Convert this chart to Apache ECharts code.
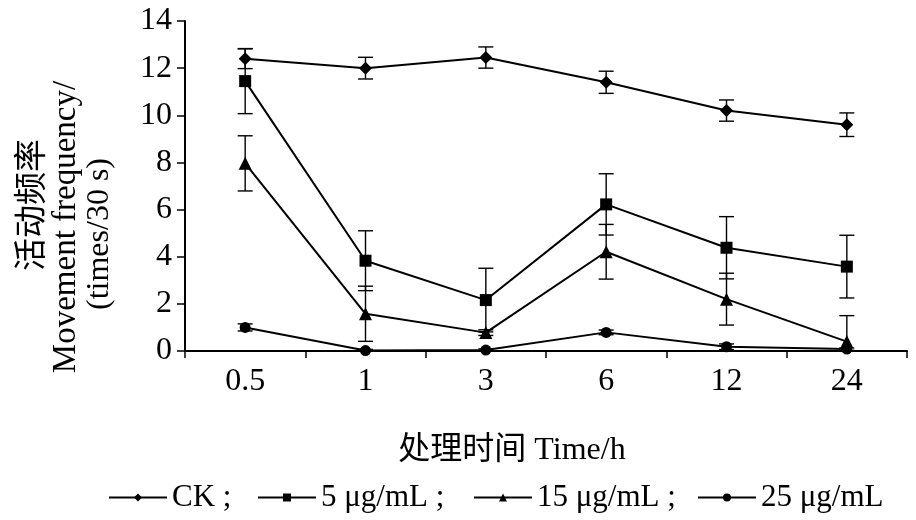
<!DOCTYPE html>
<html>
<head>
<meta charset="utf-8">
<script src="https://cdn.jsdelivr.net/npm/echarts@6/dist/echarts.min.js"></script>
<style>html,body{margin:0;padding:0;background:#fff}#c{width:916px;height:520px}</style>
</head>
<body>
<div id="c"></div>
<script>
const categories = ['0.5', '1', '3', '6', '12', '24'];
const seriesNames = ['CK', '5 μg/mL', '15 μg/mL', '25 μg/mL'];
const ck = [12.4, 12.0, 12.45, 11.4, 10.2, 9.6];
const ckErr = [0.42, 0.46, 0.45, 0.47, 0.45, 0.5];
const g5 = [11.45, 3.83, 2.16, 6.22, 4.38, 3.58];
const g5Err = [1.38, 1.27, 1.35, 1.3, 1.32, 1.33];
const g15 = [7.96, 1.58, 0.78, 4.21, 2.2, 0.4];
const g15Err = [1.17, 1.17, 0.12, 1.16, 1.1, 1.1];
const g25 = [1.0, 0.02, 0.04, 0.79, 0.18, 0.08];
const g25Err = [0.15, 0.05, 0.05, 0.1, 0.12, 0.05];
const yTicks = [0, 2, 4, 6, 8, 10, 12, 14];

const FONT = '"Liberation Serif", "Times New Roman", serif';
const CJK = '"Liberation Serif", "Noto Sans CJK SC", serif';

const values = [ck, g5, g15, g25];
const errs = [ckErr, g5Err, g15Err, g25Err];
const symbols = ['diamond', 'rect', 'triangle', 'circle'];
const symSizes = [13, 12, 13, 11];
const legendLefts = [103, 252, 468, 692];

const chart = echarts.init(document.getElementById('c'), null, {renderer: 'canvas'});

const series = [];
values.forEach((vals, k) => {
  series.push({
    name: seriesNames[k],
    type: 'line',
    data: vals,
    symbol: symbols[k],
    symbolSize: symSizes[k],
    showAllSymbol: true,
    lineStyle: {color: '#000', width: 2},
    itemStyle: {color: '#000', borderColor: '#000', borderWidth: 0},
    z: 3
  });
  series.push({
    name: seriesNames[k] + ' err',
    type: 'custom',
    data: vals.map((v, i) => [i, v, errs[k][i]]),
    renderItem: function (params, api) {
      const i = api.value(0), v = api.value(1), e = api.value(2);
      const hi = api.coord([i, v + e]);
      const lo = api.coord([i, Math.max(0, v - e)]);
      const hw = 7.5;
      const st = {stroke: '#000', lineWidth: 1.4, fill: null};
      return {
        type: 'group',
        children: [
          {type: 'line', shape: {x1: hi[0], y1: hi[1], x2: lo[0], y2: lo[1]}, style: st},
          {type: 'line', shape: {x1: hi[0] - hw, y1: hi[1], x2: hi[0] + hw, y2: hi[1]}, style: st},
          {type: 'line', shape: {x1: lo[0] - hw, y1: lo[1], x2: lo[0] + hw, y2: lo[1]}, style: st}
        ]
      };
    },
    z: 2,
    silent: true
  });
});

const legends = seriesNames.map((name, k) => ({
  data: [name],
  left: legendLefts[k],
  top: 477,
  itemWidth: 58,
  itemHeight: 10,
  selectedMode: false,
  textStyle: {fontFamily: FONT, fontSize: 31, color: '#000'},
  formatter: function (n) { return k === seriesNames.length - 1 ? n : n + ' ;'; }
}));

chart.setOption({
  backgroundColor: '#fff',
  animation: false,
  grid: {left: 185, right: 9, top: 21, bottom: 169, containLabel: false},
  legend: legends,
  xAxis: {
    type: 'category',
    data: categories,
    boundaryGap: true,
    axisLine: {lineStyle: {color: '#000', width: 2}},
    axisTick: {show: true, length: 7, lineStyle: {color: '#000', width: 1.5}},
    axisLabel: {fontFamily: FONT, fontSize: 32, color: '#000', margin: 15}
  },
  yAxis: {
    type: 'value',
    min: yTicks[0],
    max: yTicks[yTicks.length - 1],
    interval: 2,
    splitLine: {show: false},
    axisLine: {show: true, lineStyle: {color: '#000', width: 2}},
    axisTick: {show: true, length: 8, lineStyle: {color: '#000', width: 1.5}},
    axisLabel: {fontFamily: FONT, fontSize: 32, color: '#000', margin: 13}
  },
  graphic: [
    {type: 'text', x: 33, y: 205, rotation: Math.PI / 2,
     style: {text: '活动频率', font: '33px ' + CJK, fill: '#000', align: 'center', verticalAlign: 'middle'}},
    {type: 'text', x: 66, y: 227, rotation: Math.PI / 2,
     style: {text: 'Movement frequency/', font: '33px ' + FONT, fill: '#000', align: 'center', verticalAlign: 'middle'}},
    {type: 'text', x: 100, y: 234, rotation: Math.PI / 2,
     style: {text: '(times/30 s)', font: '32px ' + FONT, fill: '#000', align: 'center', verticalAlign: 'middle'}},
    {type: 'text', x: 512, y: 451,
     style: {text: '处理时间 Time/h', font: '32px ' + CJK, fill: '#000', align: 'center', verticalAlign: 'middle'}}
  ],
  series: series
});
</script>
</body>
</html>
